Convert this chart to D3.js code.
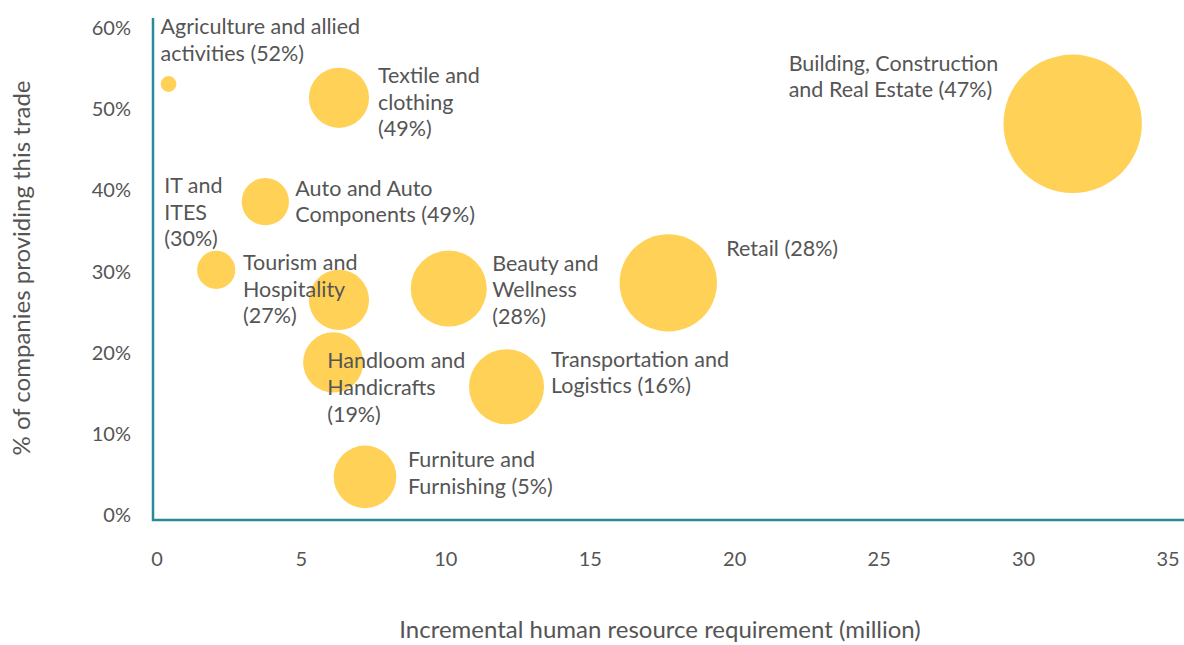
<!DOCTYPE html>
<html>
<head>
    <meta charset="utf-8">
    <title>Incremental human resource requirement by trade</title>
    <script src="https://cdn.jsdelivr.net/npm/d3@7"></script>
    <style>
    body { margin: 0; background: #fff; }
    text { font-family: Lato, "Open Sans", sans-serif; fill: #555; }
    .bubble { fill: #ffd257; }
    .axis-line { stroke: #2b8a98; stroke-width: 2.5px; fill: none; }
    .tick-label { font-size: 20px; }
    .axis-title { font-size: 24px; }
    .label { font-size: 21.5px; }
    </style>
</head>
<body>
<script>
// trades shown as bubbles
var trades = [
    ["Agriculture and allied", "activities"],
    ["Textile and", "clothing"],
    ["Building, Construction", "and Real Estate"],
    ["IT and", "ITES"],
    ["Auto and Auto", "Components"],
    ["Retail"],
    ["Tourism and", "Hospitality"],
    ["Beauty and", "Wellness"],
    ["Handloom and", "Handicrafts"],
    ["Transportation and", "Logistics"],
    ["Furniture and", "Furnishing"]
];
// incremental requirement, million
var requirement = [0.4, 6.3, 31.7, 2.05, 3.75, 17.7, 6.3, 10.1, 6.1, 12.1, 7.2];
// % of companies providing this trade (plotted)
var share = [53.1, 51.4, 48.2, 30.2, 38.6, 28.6, 26.5, 27.9, 18.8, 15.8, 4.7];
// % quoted in the label
var labelPct = [52, 49, 47, 30, 49, 28, 27, 28, 19, 16, 5];
// bubble size (relative)
var bubbleSize = [1.3, 18.9, 100, 7.6, 11.7, 49.5, 18.9, 30.2, 18.9, 29.4, 20.5];

var xTicks = [0, 5, 10, 15, 20, 25, 30, 35];
var yTicks = [0, 10, 20, 30, 40, 50, 60];

// label placement relative to bubble centre: [dx, dy of first baseline, how the last line joins]
var labelLayout = [
    [-8, -50, "inline"],
    [39, -15, "newline"],
    [-284, -53, "inline"],
    [-52, -77, "newline"],
    [30, -6, "inline"],
    [58, -27, "inline"],
    [-96, -30, "newline"],
    [43.5, -18, "newline"],
    [-6, 6, "newline"],
    [44.5, -20, "inline"],
    [43, -10, "inline"]
];

var width = 1184, height = 645, lineH = 26.7;

var x = d3.scaleLinear().domain([0, 35]).range([157, 1168]);
var y = d3.scaleLinear().domain([0, 60]).range([515, 28]);
var r = d3.scaleSqrt().domain([0, 100]).range([0, 69.2]);

var svg = d3.select("body").append("svg")
    .attr("width", width)
    .attr("height", height);

var data = trades.map(function(t, i) {
    return {lines: t, x: requirement[i], y: share[i], pct: labelPct[i], size: bubbleSize[i], layout: labelLayout[i]};
});

// bubbles
svg.selectAll(".bubble")
    .data(data)
    .enter().append("circle")
    .attr("class", "bubble")
    .attr("cx", function(d) { return x(d.x); })
    .attr("cy", function(d) { return y(d.y); })
    .attr("r", function(d) { return r(d.size); });

// axis lines
svg.append("path")
    .attr("class", "axis-line")
    .attr("d", "M153,18V520H" + width);

// tick labels
svg.selectAll(".xt")
    .data(xTicks)
    .enter().append("text")
    .attr("class", "tick-label")
    .attr("x", function(d) { return x(d); })
    .attr("y", 566)
    .attr("text-anchor", "middle")
    .text(function(d) { return d; });

svg.selectAll(".yt")
    .data(yTicks)
    .enter().append("text")
    .attr("class", "tick-label")
    .attr("x", 131)
    .attr("y", function(d) { return y(d) + 7; })
    .attr("text-anchor", "end")
    .text(function(d) { return d + "%"; });

// axis titles
svg.append("text")
    .attr("class", "axis-title")
    .attr("x", 660)
    .attr("y", 638)
    .attr("text-anchor", "middle")
    .text("Incremental human resource requirement (million)");

svg.append("text")
    .attr("class", "axis-title")
    .attr("transform", "translate(30,268) rotate(-90)")
    .attr("text-anchor", "middle")
    .text("% of companies providing this trade");

// bubble labels
var labels = svg.selectAll(".label")
    .data(data)
    .enter().append("text")
    .attr("class", "label")
    .attr("x", function(d) { return x(d.x) + d.layout[0]; })
    .attr("y", function(d) { return y(d.y) + d.layout[1]; });

labels.each(function(d) {
    var el = d3.select(this);
    var lines = d.lines.slice();
    var pct = "(" + d.pct + "%)";
    if (d.layout[2] === "inline") lines[lines.length - 1] += " " + pct;
    else lines.push(pct);
    lines.forEach(function(s, i) {
        el.append("tspan")
            .attr("x", x(d.x) + d.layout[0])
            .attr("dy", i === 0 ? 0 : lineH)
            .text(s);
    });
});
</script>
</body>
</html>
